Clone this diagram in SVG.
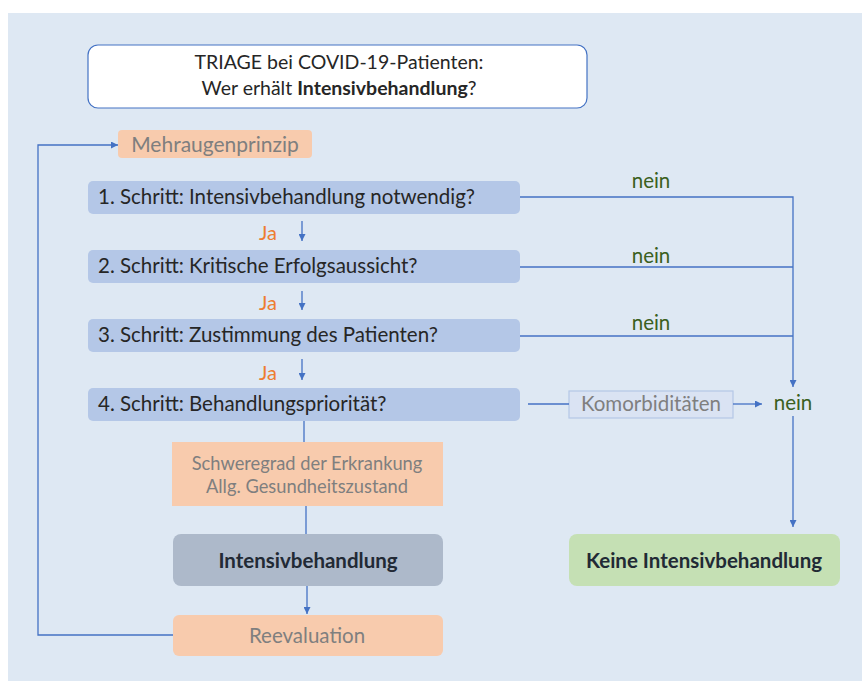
<svg xmlns="http://www.w3.org/2000/svg" width="862" height="681" viewBox="0 0 862 681">
<style>
  text { font-family: Lato, "Liberation Sans", sans-serif; }
  .step rect { fill: #B4C7E7; }
  .step text { font-size: 20.5px; fill: #262626; }
  .orange rect { fill: #F8CBAD; }
  .gray { fill: #7F7F7F; }
  .ja { font-size: 20px; fill: #ED7D31; }
  .nein { font-size: 20.5px; fill: #3B6020; text-anchor: middle; }
  .conn { stroke: #4472C4; stroke-width: 1.3; fill: none; }
  .bold { font-weight: bold; fill: #222A35; font-size: 20.5px; text-anchor: middle; }
</style>
<defs>
  <marker id="arr" viewBox="0 0 10 10" refX="10" refY="5" markerWidth="7" markerHeight="7" orient="auto" markerUnits="userSpaceOnUse">
    <path d="M0,0 L10,5 L0,10 z" fill="#4472C4"/>
  </marker>
</defs>
<rect x="8" y="13" width="854" height="668" fill="#DEE8F3"/>

<g id="title">
  <rect x="88" y="45" width="499" height="63" rx="10" fill="#FFFFFF" stroke="#4472C4" stroke-width="1.2"/>
  <text x="339" y="69" text-anchor="middle" font-size="19.5" fill="#262626">TRIAGE bei COVID-19-Patienten:</text>
  <text x="339" y="95" text-anchor="middle" font-size="19.5" fill="#262626">Wer erhält <tspan font-weight="bold">Intensivbehandlung</tspan>?</text>
</g>

<g id="mehraugen" class="orange">
  <rect x="118" y="130" width="194" height="28" rx="4"/>
  <text x="215" y="152" text-anchor="middle" font-size="21" class="gray">Mehraugenprinzip</text>
</g>

<g id="step1" class="step">
  <rect x="88" y="181" width="432" height="33" rx="5"/>
  <text x="98" y="204">1. Schritt: Intensivbehandlung notwendig?</text>
</g>
<g id="step2" class="step">
  <rect x="88" y="250" width="432" height="33" rx="5"/>
  <text x="98" y="273">2. Schritt: Kritische Erfolgsaussicht?</text>
</g>
<g id="step3" class="step">
  <rect x="88" y="319" width="432" height="33" rx="5"/>
  <text x="98" y="342">3. Schritt: Zustimmung des Patienten?</text>
</g>
<g id="step4" class="step">
  <rect x="88" y="388" width="432" height="33" rx="5"/>
  <text x="98" y="411">4. Schritt: Behandlungspriorität?</text>
</g>

<g id="komorbiditaeten">
  <rect x="569" y="391" width="164" height="27" fill="#DAE3F3" stroke="#B4C7E7" stroke-width="1.2"/>
  <text x="651" y="411" text-anchor="middle" font-size="20.5" class="gray">Komorbiditäten</text>
</g>

<g id="schweregrad" class="orange">
  <rect x="172" y="442" width="271" height="64"/>
  <text x="307" y="470" text-anchor="middle" font-size="18.3" class="gray">Schweregrad der Erkrankung</text>
  <text x="307" y="493" text-anchor="middle" font-size="18.3" class="gray">Allg. Gesundheitszustand</text>
</g>

<g id="intensiv">
  <rect x="173" y="534" width="270" height="52" rx="8" fill="#ADB9CA"/>
  <text x="308" y="568" class="bold">Intensivbehandlung</text>
</g>

<g id="reevaluation" class="orange">
  <rect x="173" y="615" width="270" height="41" rx="6"/>
  <text x="307" y="643" text-anchor="middle" font-size="20.5" class="gray">Reevaluation</text>
</g>

<g id="keine">
  <rect x="569" y="534" width="271" height="52" rx="8" fill="#C5E0B4"/>
  <text x="704" y="568" class="bold">Keine Intensivbehandlung</text>
</g>

<g id="labels">
  <text x="259" y="240" class="ja">Ja</text>
  <text x="259" y="310" class="ja">Ja</text>
  <text x="259" y="380" class="ja">Ja</text>
  <text x="651" y="188" class="nein">nein</text>
  <text x="651" y="263" class="nein">nein</text>
  <text x="651" y="330" class="nein">nein</text>
  <text x="793" y="410" class="nein">nein</text>
</g>

<g id="connectors">
  <line class="conn" x1="302" y1="221" x2="302" y2="241" marker-end="url(#arr)"/>
  <line class="conn" x1="302" y1="291" x2="302" y2="310" marker-end="url(#arr)"/>
  <line class="conn" x1="302" y1="359" x2="302" y2="380" marker-end="url(#arr)"/>
  <path class="conn" d="M520,197 H793 V387" marker-end="url(#arr)"/>
  <line class="conn" x1="520" y1="267" x2="793" y2="267"/>
  <line class="conn" x1="520" y1="336" x2="793" y2="336"/>
  <line class="conn" x1="528" y1="404" x2="569" y2="404"/>
  <line class="conn" x1="733" y1="404" x2="762" y2="404" marker-end="url(#arr)"/>
  <line class="conn" x1="793" y1="416" x2="793" y2="527" marker-end="url(#arr)"/>
  <line class="conn" x1="304" y1="421" x2="304" y2="442"/>
  <line class="conn" x1="306" y1="506" x2="306" y2="534"/>
  <line class="conn" x1="307" y1="586" x2="307" y2="614" marker-end="url(#arr)"/>
  <path class="conn" d="M173,635 H38 V145 H118" marker-end="url(#arr)"/>
</g>
</svg>
